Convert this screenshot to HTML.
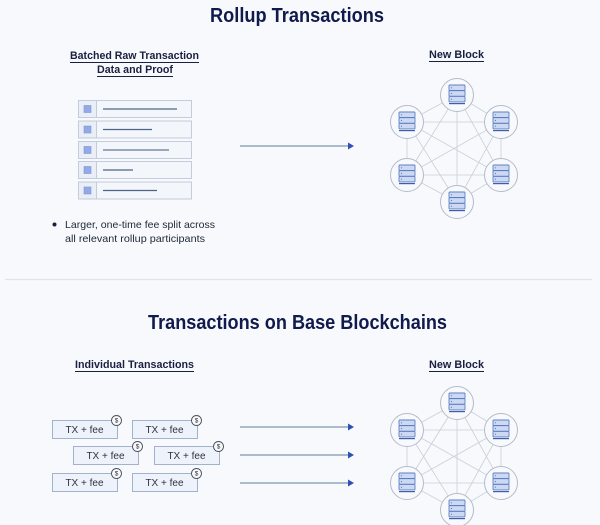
<!DOCTYPE html>
<html><head><meta charset="utf-8"><style>
html,body{margin:0;padding:0;background:#f7f9fc;}
svg{display:block;}
</style></head><body>
<svg width="600" height="525" viewBox="0 0 600 525" xmlns="http://www.w3.org/2000/svg" font-family="Liberation Sans, sans-serif">
<defs>
<g id="node">
<circle r="16.5" fill="#f7f9fc" stroke="#b3bcc9" stroke-width="1"/>
<rect x="-8" y="-10" width="16" height="5.5" rx="0.8" fill="#cdd9f2" stroke="#5f7fc4" stroke-width="0.9"/>
<rect x="-8" y="-4.3" width="16" height="5.5" rx="0.8" fill="#cdd9f2" stroke="#5f7fc4" stroke-width="0.9"/>
<rect x="-8" y="1.4" width="16" height="5.5" rx="0.8" fill="#cdd9f2" stroke="#5f7fc4" stroke-width="0.9"/>
<line x1="-8" y1="8.6" x2="8" y2="8.6" stroke="#3f5fa8" stroke-width="1.2"/>
<circle cx="-5.5" cy="-7.2" r="0.6" fill="#5f7fc4"/>
<circle cx="-5.5" cy="-1.5" r="0.6" fill="#5f7fc4"/>
<circle cx="-5.5" cy="4.2" r="0.6" fill="#5f7fc4"/>
</g>
<g id="net">
<g stroke="#c9d0db" stroke-width="0.8">
<line x1="0" y1="0" x2="-50" y2="27"/><line x1="0" y1="0" x2="44" y2="27"/>
<line x1="0" y1="0" x2="-50" y2="80"/><line x1="0" y1="0" x2="44" y2="80"/>
<line x1="0" y1="0" x2="0" y2="107"/>
<line x1="-50" y1="27" x2="44" y2="27"/><line x1="-50" y1="27" x2="-50" y2="80"/>
<line x1="-50" y1="27" x2="44" y2="80"/><line x1="-50" y1="27" x2="0" y2="107"/>
<line x1="44" y1="27" x2="-50" y2="80"/><line x1="44" y1="27" x2="44" y2="80"/>
<line x1="44" y1="27" x2="0" y2="107"/>
<line x1="-50" y1="80" x2="44" y2="80"/><line x1="-50" y1="80" x2="0" y2="107"/>
<line x1="44" y1="80" x2="0" y2="107"/>
</g>
<use href="#node" x="0" y="0"/>
<use href="#node" x="-50" y="27"/>
<use href="#node" x="44" y="27"/>
<use href="#node" x="-50" y="80"/>
<use href="#node" x="44" y="80"/>
<use href="#node" x="0" y="107"/>
</g>
<g id="tx">
<rect x="0" y="0" width="65" height="18" fill="#eef2fa" stroke="#a3b2cb" stroke-width="1"/>
<text x="32" y="12.5" font-size="10" fill="#2e3340" text-anchor="middle">TX + fee</text>
<circle cx="64" cy="0" r="5" fill="#f7f9fc" stroke="#4a4f5a" stroke-width="0.9"/>
<text x="64" y="2.2" font-size="6.5" fill="#333" text-anchor="middle">$</text>
</g>
<g id="arr">
<line x1="0" y1="0" x2="110" y2="0" stroke="#8094b2" stroke-width="1.2"/>
<polygon points="108,-3.5 114,0 108,3.5" fill="#2f50b5"/>
</g>
</defs>

<!-- Titles -->
<text x="210" y="22" font-size="20.5" font-weight="bold" fill="#101a4c" textLength="174" lengthAdjust="spacingAndGlyphs">Rollup Transactions</text>
<text x="148" y="329" font-size="20.5" font-weight="bold" fill="#101a4c" textLength="299" lengthAdjust="spacingAndGlyphs">Transactions on Base Blockchains</text>

<!-- subheadings -->
<g font-size="11" font-weight="bold" fill="#1a2040">
<text x="70" y="59" textLength="129" lengthAdjust="spacingAndGlyphs">Batched Raw Transaction</text>
<text x="97" y="73" textLength="76" lengthAdjust="spacingAndGlyphs">Data and Proof</text>
<text x="429" y="58" textLength="55" lengthAdjust="spacingAndGlyphs">New Block</text>
<text x="75" y="368" textLength="119" lengthAdjust="spacingAndGlyphs">Individual Transactions</text>
<text x="429" y="368" textLength="55" lengthAdjust="spacingAndGlyphs">New Block</text>
</g>
<g stroke="#1a2040" stroke-width="1">
<line x1="70" y1="62.5" x2="199" y2="62.5"/>
<line x1="97" y1="76.5" x2="173" y2="76.5"/>
<line x1="429" y1="61.5" x2="484" y2="61.5"/>
<line x1="75" y1="371.5" x2="194" y2="371.5"/>
<line x1="429" y1="371.5" x2="484" y2="371.5"/>
</g>

<!-- list -->
<g stroke="#c3ccda" stroke-width="1">
<rect x="78.5" y="100.5" width="113" height="17" fill="#f3f6fb"/>
<rect x="78.5" y="121" width="113" height="17" fill="#f3f6fb"/>
<rect x="78.5" y="141.5" width="113" height="17" fill="#f3f6fb"/>
<rect x="78.5" y="161.5" width="113" height="17" fill="#f3f6fb"/>
<rect x="78.5" y="182" width="113" height="17" fill="#f3f6fb"/>
<line x1="96.5" y1="100.5" x2="96.5" y2="117.5"/>
<line x1="96.5" y1="121" x2="96.5" y2="138"/>
<line x1="96.5" y1="141.5" x2="96.5" y2="158.5"/>
<line x1="96.5" y1="161.5" x2="96.5" y2="178.5"/>
<line x1="96.5" y1="182" x2="96.5" y2="199"/>
</g>
<g fill="#e9eef7">
<rect x="79" y="101" width="17" height="16"/>
<rect x="79" y="121.5" width="17" height="16"/>
<rect x="79" y="142" width="17" height="16"/>
<rect x="79" y="162" width="17" height="16"/>
<rect x="79" y="182.5" width="17" height="16"/>
</g>
<g fill="#93aae6" stroke="#7d95d4" stroke-width="0.6">
<rect x="84" y="105.5" width="7" height="7"/>
<rect x="84" y="126" width="7" height="7"/>
<rect x="84" y="146.5" width="7" height="7"/>
<rect x="84" y="166.5" width="7" height="7"/>
<rect x="84" y="187" width="7" height="7"/>
</g>
<g stroke="#4e6486" stroke-width="1.2">
<line x1="103" y1="109" x2="177" y2="109"/>
<line x1="103" y1="129.5" x2="152" y2="129.5"/>
<line x1="103" y1="150" x2="169" y2="150" stroke="#667a94"/>
<line x1="103" y1="170" x2="133" y2="170"/>
<line x1="103" y1="190.5" x2="157" y2="190.5"/>
</g>

<!-- bullet -->
<circle cx="54.5" cy="224.5" r="2" fill="#1a2040"/>
<g font-size="10.5" fill="#222a3a">
<text x="65" y="228" textLength="150" lengthAdjust="spacingAndGlyphs">Larger, one-time fee split across</text>
<text x="65" y="242" textLength="140" lengthAdjust="spacingAndGlyphs">all relevant rollup participants</text>
</g>

<!-- arrows -->
<use href="#arr" x="240" y="146"/>
<use href="#arr" x="240" y="427"/>
<use href="#arr" x="240" y="455"/>
<use href="#arr" x="240" y="483"/>

<!-- separator -->
<line x1="5" y1="279.5" x2="592" y2="279.5" stroke="#dfe3ea" stroke-width="1.2"/>

<!-- networks -->
<use href="#net" x="457" y="95"/>
<use href="#net" x="457" y="403"/>

<!-- tx boxes -->
<use href="#tx" x="52.5" y="420.5"/>
<use href="#tx" x="132.5" y="420.5"/>
<use href="#tx" x="73.5" y="446.5"/>
<use href="#tx" x="154.5" y="446.5"/>
<use href="#tx" x="52.5" y="473.5"/>
<use href="#tx" x="132.5" y="473.5"/>
</svg>
</body></html>
